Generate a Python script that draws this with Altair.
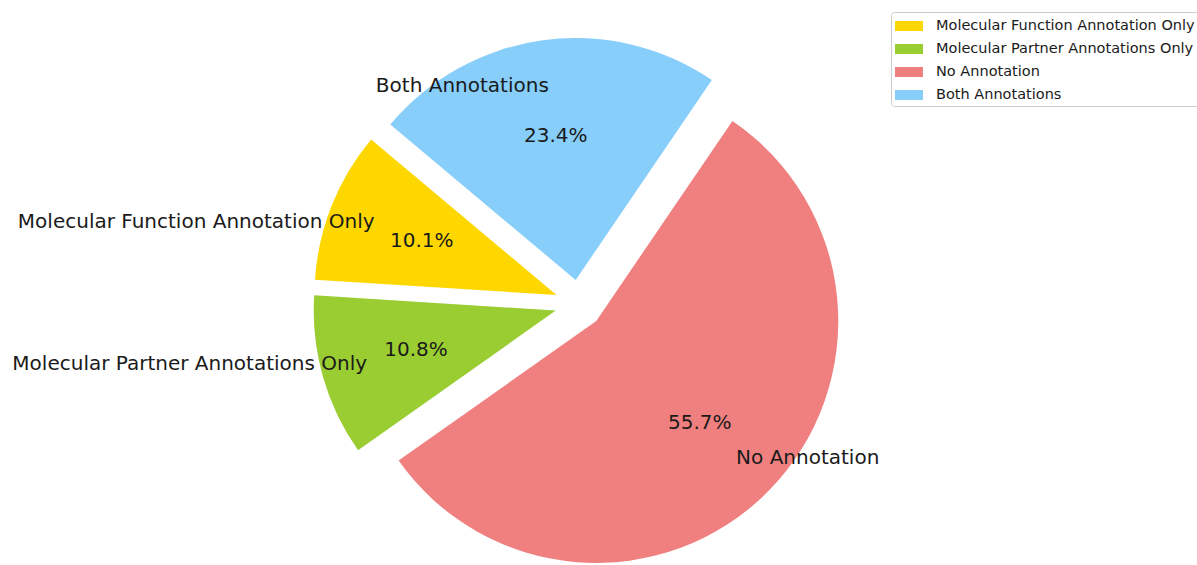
import altair as alt
import pandas as pd

# ---- data ----
labels = [
    "Molecular Function Annotation Only",
    "Molecular Partner Annotations Only",
    "No Annotation",
    "Both Annotations",
]
values = [10.1, 10.8, 55.7, 23.4]
order = [0, 1, 2, 3]
colors = ["#FFD700", "#9ACD32", "#F08080", "#87CEFA"]

# ---- style / layout ----
START_ANGLE = 140      # matplotlib-style start angle (deg, counter-clockwise from east)
EXPLODE = 0.1
PCT_DIST = 0.6
LABEL_DIST = 0.81
R = 242                # pie radius in px
W, H = 1197, 565
CX, CY = 579, 304      # pie centre in px
FONT = "DejaVu Sans"
TXT = "#1a1a1a"

df = pd.DataFrame({"label": labels, "value": values, "order": order})

xscale = alt.Scale(domain=[-CX / R, (W - CX) / R], nice=False, zero=False)
yscale = alt.Scale(domain=[-(H - CY) / R, CY / R], nice=False, zero=False)

base = (
    alt.Chart(df)
    .transform_joinaggregate(total="sum(value)")
    .transform_window(cum="sum(value)", sort=[alt.SortField("order")], frame=[None, 0])
    .transform_calculate(
        a1=f"{START_ANGLE} + 360 * (datum.cum - datum.value) / datum.total",
        a2=f"{START_ANGLE} + 360 * datum.cum / datum.total",
    )
    .transform_calculate(
        mid="(datum.a1 + datum.a2) / 2 * PI / 180",
        t1="(810 - datum.a2) * PI / 180",
        t2="(810 - datum.a1) * PI / 180",
    )
    .transform_calculate(
        ex=f"{EXPLODE} * cos(datum.mid)",
        ey=f"{EXPLODE} * sin(datum.mid)",
        px=f"{EXPLODE + PCT_DIST} * cos(datum.mid)",
        py=f"{EXPLODE + PCT_DIST} * sin(datum.mid)",
        lx=f"{EXPLODE + LABEL_DIST} * cos(datum.mid)",
        ly=f"{EXPLODE + LABEL_DIST} * sin(datum.mid)",
        pct="format(datum.value, '.1f') + '%'",
    )
)

legend = alt.Legend(
    title=None,
    orient="none",
    legendX=891,
    legendY=12,
    padding=4,
    fillColor="white",
    strokeColor="#cccccc",
    cornerRadius=3,
    labelFont=FONT,
    labelFontSize=14.5,
    labelColor=TXT,
    labelOffset=21,
    labelLimit=400,
    symbolType="M-1,-0.5H1.8V0.5H-1Z",
    symbolSize=400,
    symbolStrokeWidth=0,
    symbolOpacity=1,
    rowPadding=6,
)

arcs = base.mark_arc(radius=R, strokeWidth=0).encode(
    x=alt.X("ex:Q", scale=xscale, axis=None),
    y=alt.Y("ey:Q", scale=yscale, axis=None),
    theta=alt.Theta("t1:Q", scale=None, stack=None),
    theta2="t2:Q",
    color=alt.Color(
        "label:N",
        scale=alt.Scale(domain=labels, range=colors),
        sort=labels,
        legend=legend,
    ),
)

pct_text = base.mark_text(
    font=FONT, fontSize=20, color=TXT, align="center", baseline="middle"
).encode(
    x=alt.X("px:Q", scale=xscale, axis=None),
    y=alt.Y("py:Q", scale=yscale, axis=None),
    text="pct:N",
)

lab_left = base.transform_filter("datum.lx > 0").mark_text(
    font=FONT, fontSize=20, color=TXT, align="left", baseline="middle"
).encode(
    x=alt.X("lx:Q", scale=xscale, axis=None),
    y=alt.Y("ly:Q", scale=yscale, axis=None),
    text="label:N",
)

lab_right = base.transform_filter("datum.lx <= 0").mark_text(
    font=FONT, fontSize=20, color=TXT, align="right", baseline="middle"
).encode(
    x=alt.X("lx:Q", scale=xscale, axis=None),
    y=alt.Y("ly:Q", scale=yscale, axis=None),
    text="label:N",
)

chart = (
    alt.layer(arcs, pct_text, lab_left, lab_right)
    .properties(width=W, height=H, padding=0, autosize=alt.AutoSizeParams(type="none"), background="white")
    .configure_view(stroke=None)
)

chart.save("out.html", embed_options={"renderer": "svg", "actions": False})
